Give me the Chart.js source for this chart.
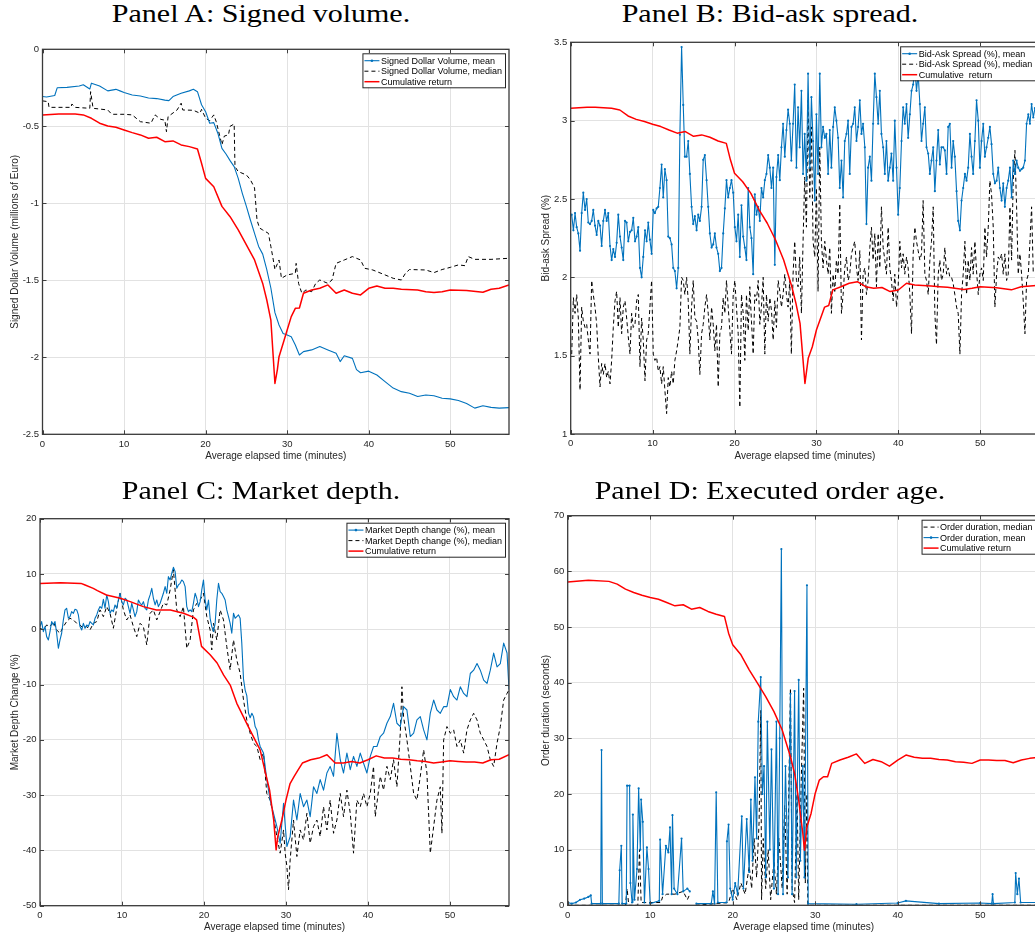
<!DOCTYPE html>
<html>
<head>
<meta charset="utf-8">
<script src="https://cdn.jsdelivr.net/npm/chart.js@4.4.1/dist/chart.umd.min.js"></script>
<style>
html, body { margin: 0; padding: 0; width: 1035px; height: 938px; overflow: hidden; background: #fff; }
canvas { position: absolute; }
.panel-title {
    position: absolute; width: 400px; text-align: center;
    font-family: "Liberation Serif", "Times New Roman", serif;
    font-size: 25px; line-height: 25px; color: #000; white-space: nowrap;
    transform: scaleX(1.2); transform-origin: center;
}
</style>
</head>
<body>
<canvas id="chartA" width="515" height="430" style="left:0px; top:40px;"></canvas>
<canvas id="chartB" width="525" height="440" style="left:520px; top:30px;"></canvas>
<canvas id="chartC" width="515" height="468" style="left:0px; top:470px;"></canvas>
<canvas id="chartD" width="525" height="433" style="left:520px; top:505px;"></canvas>
<div class="panel-title" style="left:61px; top:1px;">Panel A: Signed volume.</div>
<div class="panel-title" style="left:570px; top:1px;">Panel B: Bid-ask spread.</div>
<div class="panel-title" style="left:61px; top:478px;">Panel C: Market depth.</div>
<div class="panel-title" style="left:570px; top:478px;">Panel D: Executed order age.</div>
<script>
// Ejes compartidos
const timeMax = 57.2;
const timeTicks = [0, 10, 20, 30, 40, 50];
const volTicks = [-2.5, -2, -1.5, -1, -0.5, 0];
const spreadTicks = [1, 1.5, 2, 2.5, 3, 3.5];
const depthTicks = [-50, -40, -30, -20, -10, 0, 10, 20];
const ageTicks = [0, 10, 20, 30, 40, 50, 60, 70];

// Panel A: volumen firmado [minutos, millones de euro]
const volMean = [[0,-0.307],[0.5,-0.31],[1.5,-0.30],[1.8,-0.25],[3,-0.247],[4.5,-0.238],[5,-0.23],[5.8,-0.258],[6,-0.22],[7,-0.238],
  [8,-0.27],[9,-0.26],[9.5,-0.27],[10,-0.28],[11,-0.297],[12,-0.303],[13,-0.316],[14,-0.32],[15,-0.33],[15.5,-0.333],
  [16,-0.307],[17,-0.286],[18,-0.27],[18.5,-0.26],[19,-0.275],[19.5,-0.36],[20,-0.405],[20.5,-0.48],[21,-0.476],[21.5,-0.545],
  [22,-0.643],[22.5,-0.68],[23,-0.723],[23.5,-0.762],[24,-0.838],[24.5,-0.935],[25,-1.02],[25.5,-1.11],[26,-1.195],[26.5,-1.28],
  [27,-1.33],[27.5,-1.43],[28,-1.55],[28.5,-1.71],[29,-1.79],[29.5,-1.845],[30,-1.855],[30.5,-1.866],[31,-1.92],[31.5,-1.985],
  [32,-1.963],[33,-1.952],[34,-1.93],[35,-1.952],[36,-1.974],[36.5,-2.028],[37,-1.99],[38,-2.007],[38.5,-2.08],[39,-2.10],
  [40,-2.09],[41,-2.115],[42,-2.158],[43,-2.2],[44,-2.223],[45,-2.234],[46,-2.255],[47,-2.245],[48,-2.25],[49,-2.266],
  [50,-2.27],[51,-2.28],[52,-2.3],[53,-2.33],[54,-2.315],[55,-2.325],[56,-2.33],[57.2,-2.327]];
const volMedian = [[0,-0.335],[0.7,-0.34],[0.8,-0.377],[3.5,-0.377],[3.6,-0.355],[4,-0.377],[5.8,-0.383],[5.9,-0.275],[6.2,-0.383],[8,-0.394],
  [8.5,-0.422],[10,-0.422],[11,-0.426],[12,-0.47],[13.3,-0.48],[13.8,-0.426],[14.5,-0.455],[15,-0.46],[15.2,-0.535],[15.4,-0.437],
  [16.5,-0.394],[17,-0.35],[17.2,-0.394],[18.5,-0.396],[19.3,-0.415],[19.5,-0.39],[20,-0.448],[20.5,-0.463],[21,-0.426],[21.3,-0.47],
  [22,-0.62],[22.3,-0.563],[22.8,-0.556],[23,-0.50],[23.5,-0.485],[23.6,-0.762],[24,-0.794],[25,-0.816],[25.5,-0.848],[26,-0.9],
  [26.3,-1.108],[26.6,-1.16],[27,-1.173],[27.7,-1.195],[28,-1.28],[28.3,-1.368],[28.5,-1.43],[29,-1.368],[29.3,-1.487],[30,-1.465],
  [31,-1.455],[31.1,-1.39],[31.4,-1.52],[31.8,-1.584],[32.3,-1.563],[33,-1.574],[33.5,-1.52],[34,-1.498],[35,-1.52],[35.5,-1.498],
  [36,-1.39],[37,-1.368],[38,-1.346],[39,-1.368],[39.5,-1.422],[40.5,-1.433],[42,-1.465],[43,-1.487],[44,-1.498],[44.5,-1.455],
  [45,-1.43],[47,-1.433],[48,-1.45],[49,-1.43],[50,-1.416],[51,-1.4],[51.8,-1.405],[52.2,-1.346],[53,-1.364],[55,-1.364],[57.2,-1.357]];
const volReturn = [[0,-0.426],[2,-0.42],[4,-0.42],[5,-0.426],[6,-0.448],[7,-0.48],[8,-0.498],[9,-0.506],[10,-0.524],[11,-0.541],
  [12,-0.556],[13,-0.578],[14,-0.571],[15,-0.6],[16,-0.595],[17,-0.621],[18,-0.632],[19,-0.647],[19.5,-0.74],[20,-0.838],
  [21,-0.892],[22,-1.02],[23,-1.087],[24,-1.173],[25,-1.27],[26,-1.368],[27,-1.52],[27.5,-1.628],[28,-1.758],[28.5,-2.17],
  [28.8,-2.08],[29,-1.996],[29.5,-1.91],[30,-1.823],[30.5,-1.736],[31,-1.682],[31.5,-1.68],[32,-1.584],[33,-1.563],[34,-1.552],
  [35,-1.53],[36,-1.584],[37,-1.563],[38,-1.584],[39,-1.595],[40,-1.552],[41,-1.537],[42,-1.552],[43,-1.552],[44,-1.558],
  [46,-1.563],[47,-1.574],[48,-1.58],[49,-1.574],[50,-1.563],[52,-1.566],[54,-1.578],[55,-1.558],[56,-1.552],[57.2,-1.53]];

// Panel B: spread bid-ask (%)
const spreadMean = [[0.12,2.40],[0.33,2.30],[0.53,2.41],[0.73,2.32],[0.93,2.28],[1.14,2.17],[1.34,2.41],[1.54,2.54],[1.75,2.43],[1.95,2.50],
  [2.15,2.35],[2.36,2.34],[2.56,2.36],[2.76,2.43],[2.97,2.33],[3.17,2.27],[3.37,2.36],[3.58,2.33],[3.78,2.20],[3.98,2.36],
  [4.19,2.43],[4.39,2.36],[4.59,2.41],[4.80,2.20],[5.00,2.11],[5.20,2.18],[5.41,2.13],[5.61,2.22],[5.81,2.40],[6.02,2.26],
  [6.22,2.19],[6.42,2.11],[6.63,2.36],[6.83,2.35],[7.03,2.23],[7.24,2.29],[7.44,2.30],[7.64,2.38],[7.85,2.23],[8.05,2.26],
  [8.25,2.32],[8.46,2.06],[8.66,2.00],[8.86,2.13],[9.07,2.30],[9.27,2.23],[9.47,2.35],[9.67,2.24],[9.88,2.15],[10.08,2.43],
  [10.28,2.41],[10.49,2.44],[10.69,2.45],[10.89,2.57],[11.10,2.72],[11.30,2.51],[11.50,2.69],[11.71,2.62],[11.91,2.26],[12.11,2.25],
  [12.32,2.21],[12.52,2.06],[12.72,2.04],[12.93,1.93],[13.13,2.06],[13.33,2.91],[13.54,3.47],[13.74,3.10],[13.94,2.77],[14.15,2.77],
  [14.35,2.87],[14.55,2.66],[14.76,2.45],[14.96,2.34],[15.16,2.39],[15.37,2.30],[15.57,2.40],[15.77,2.36],[15.98,2.45],[16.18,2.75],
  [16.38,2.78],[16.59,2.62],[16.79,2.45],[16.99,2.28],[17.20,2.19],[17.40,2.21],[17.60,2.28],[17.80,2.19],[18.01,2.15],[18.21,2.04],
  [18.41,2.06],[18.62,2.28],[18.82,2.44],[19.02,2.62],[19.23,2.51],[19.43,2.57],[19.63,2.62],[19.84,2.54],[20.04,2.32],[20.24,2.23],
  [20.45,2.40],[20.65,2.13],[20.85,2.46],[21.06,2.26],[21.26,2.19],[21.46,2.11],[21.67,2.57],[21.87,2.32],[22.07,2.25],[22.28,2.02],
  [22.48,2.53],[22.68,2.40],[22.89,2.45],[23.09,2.36],[23.29,2.57],[23.50,2.51],[23.70,2.62],[23.90,2.66],[24.11,2.78],[24.31,2.70],
  [24.51,2.57],[24.72,2.70],[24.92,2.08],[25.12,2.64],[25.33,2.78],[25.53,2.62],[25.73,2.83],[25.93,2.98],[26.14,2.77],[26.34,2.94],
  [26.54,3.07],[26.75,2.98],[26.94,2.745],[27.15,2.98],[27.35,3.23],[27.56,2.70],[27.76,3.085],[27.96,2.83],[28.17,3.19],[28.37,2.66],
  [28.57,2.915],[28.78,2.617],[28.98,3.30],[29.19,2.70],[29.39,3.15],[29.59,2.87],[29.80,2.49],[30.00,3.04],[30.20,2.66],[30.41,3.30],
  [30.61,2.83],[30.81,2.96],[31.02,2.89],[31.22,2.915],[31.43,2.66],[31.63,2.94],[31.83,2.70],[32.04,2.96],[32.24,3.085],[32.44,3.0],
  [32.65,2.89],[32.85,2.57],[33.06,2.745],[33.26,2.51],[33.46,2.87],[33.67,2.915],[33.87,3.0],[34.07,2.66],[34.28,2.96],[34.48,2.98],
  [34.68,3.085],[34.89,2.87],[35.09,2.96],[35.30,3.13],[35.50,2.915],[35.70,2.98],[35.91,2.83],[36.11,2.34],[36.31,2.70],[36.52,2.77],
  [36.72,2.617],[36.92,2.98],[37.13,3.30],[37.33,3.15],[37.54,2.98],[37.74,3.19],[37.94,2.915],[38.15,2.83],[38.35,2.66],[38.55,2.87],
  [38.76,2.617],[38.96,2.70],[39.16,2.79],[39.37,2.617],[39.57,3.0],[39.78,2.70],[39.98,2.40],[40.18,2.57],[40.39,2.87],[40.59,3.085],
  [40.79,2.98],[41.00,3.106],[41.20,2.89],[41.41,3.04],[41.61,3.19],[41.81,3.23],[42.02,3.34],[42.22,3.19],[42.42,3.30],[42.63,3.106],
  [42.83,2.87],[43.03,2.98],[43.24,3.085],[43.44,2.83],[43.65,2.79],[43.85,2.66],[44.05,2.745],[44.26,2.83],[44.46,2.55],[44.66,2.745],
  [44.87,2.94],[45.07,2.72],[45.27,2.83],[45.48,2.83],[45.68,2.81],[45.89,2.66],[46.09,2.96],[46.29,2.98],[46.50,2.70],[46.70,2.87],
  [46.90,2.77],[47.11,2.55],[47.31,2.36],[47.52,2.30],[47.72,2.49],[47.92,2.57],[48.13,2.66],[48.33,2.617],[48.53,2.70],[48.74,2.915],
  [48.94,2.77],[49.14,2.66],[49.35,2.87],[49.55,3.13],[49.76,3.0],[49.96,2.70],[50.16,2.87],[50.37,2.98],[50.57,2.77],[50.77,2.83],
  [50.98,2.89],[51.18,2.96],[51.38,2.85],[51.59,2.66],[51.79,2.60],[52.00,2.617],[52.20,2.70],[52.40,2.57],[52.61,2.49],[52.81,2.60],
  [53.01,2.45],[53.22,2.57],[53.42,2.617],[53.63,2.70],[53.83,2.51],[54.03,2.745],[54.24,2.66],[54.44,2.745],[54.64,2.70],[54.85,2.68],
  [55.05,2.69],[55.25,2.70],[55.46,2.745],[55.66,2.98],[55.87,3.04],[56.07,2.98],[56.27,3.106],[56.48,3.02],[56.68,3.08]];
const spreadMedian = [[0.12,1.51],[0.33,1.87],[0.53,1.77],[0.73,1.89],[0.93,1.74],[1.14,1.28],[1.34,1.81],[1.54,1.72],[1.75,1.68],[1.95,1.70],
  [2.15,1.60],[2.36,1.51],[2.56,1.98],[2.76,1.89],[2.97,1.81],[3.17,1.70],[3.37,1.49],[3.58,1.30],[3.78,1.45],[3.98,1.38],
  [4.19,1.45],[4.39,1.36],[4.59,1.40],[4.80,1.32],[5.00,1.47],[5.20,1.68],[5.41,1.85],[5.61,1.91],[5.81,1.68],[6.02,1.87],
  [6.22,1.64],[6.42,1.81],[6.63,1.85],[6.83,1.74],[7.03,1.62],[7.24,1.51],[7.44,1.77],[7.64,1.68],[7.85,1.70],[8.05,1.85],
  [8.25,1.89],[8.46,1.43],[8.66,1.74],[8.86,1.60],[9.07,1.34],[9.27,1.60],[9.47,1.64],[9.67,1.81],[9.88,1.98],[10.08,1.51],
  [10.28,1.47],[10.49,1.49],[10.69,1.40],[10.89,1.43],[11.10,1.32],[11.30,1.43],[11.50,1.28],[11.71,1.13],[11.91,1.36],[12.11,1.30],
  [12.32,1.40],[12.52,1.32],[12.72,1.47],[12.93,1.53],[13.13,1.60],[13.33,1.68],[13.54,2.0],[13.74,1.98],[13.94,1.89],[14.15,2.0],
  [14.35,1.85],[14.55,1.51],[14.76,1.81],[14.96,1.98],[15.16,1.74],[15.37,1.72],[15.57,1.60],[15.77,1.38],[15.98,1.64],[16.18,1.70],
  [16.38,1.81],[16.59,1.89],[16.79,1.77],[16.99,1.60],[17.20,1.81],[17.40,1.70],[17.60,1.53],[17.80,1.70],[18.01,1.30],[18.21,1.64],
  [18.41,1.68],[18.62,1.87],[18.82,1.77],[19.02,1.98],[19.23,1.81],[19.43,1.66],[19.63,1.51],[19.84,1.89],[20.04,1.98],[20.24,1.81],
  [20.45,1.64],[20.65,1.17],[20.85,1.89],[21.06,1.77],[21.26,1.47],[21.46,1.89],[21.67,1.66],[21.87,1.94],[22.07,1.72],[22.28,1.51],
  [22.48,1.89],[22.68,1.85],[22.89,1.98],[23.09,1.70],[23.29,1.81],[23.50,2.0],[23.70,1.51],[23.90,1.89],[24.11,1.72],[24.31,1.87],
  [24.51,1.79],[24.72,1.60],[24.92,1.85],[25.12,1.68],[25.33,1.98],[25.53,1.91],[25.73,1.81],[25.93,1.89],[26.14,2.02],[26.34,1.89],
  [26.54,1.81],[26.75,1.98],[26.94,1.51],[27.15,2.02],[27.35,2.23],[27.56,1.98],[27.76,1.94],[27.96,2.13],[28.17,1.77],[28.37,2.23],
  [28.57,2.64],[28.78,2.32],[28.98,3.13],[29.19,2.51],[29.39,2.96],[29.59,2.23],[29.80,2.13],[30.00,2.57],[30.20,1.91],[30.41,2.83],
  [30.61,2.23],[30.81,2.06],[31.02,2.23],[31.22,2.11],[31.43,2.02],[31.63,2.19],[31.83,1.77],[32.04,2.02],[32.24,1.91],[32.44,2.11],
  [32.65,2.02],[32.85,2.47],[33.06,1.77],[33.26,1.89],[33.46,2.06],[33.67,2.13],[33.87,1.98],[34.07,2.02],[34.28,2.15],[34.48,2.19],
  [34.68,2.23],[34.89,2.06],[35.09,1.98],[35.30,2.17],[35.50,1.60],[35.70,2.02],[35.91,2.06],[36.11,1.89],[36.31,1.98],[36.52,2.19],
  [36.72,2.32],[36.92,2.11],[37.13,2.28],[37.33,1.94],[37.54,2.28],[37.74,2.06],[37.94,2.45],[38.15,2.19],[38.35,2.11],[38.55,2.02],
  [38.76,2.32],[38.96,2.06],[39.16,1.98],[39.37,1.85],[39.57,2.02],[39.78,1.81],[39.98,1.94],[40.18,2.23],[40.39,2.06],[40.59,2.15],
  [40.79,2.02],[41.00,2.13],[41.20,2.06],[41.41,1.89],[41.61,1.64],[41.81,2.15],[42.02,2.32],[42.22,2.23],[42.42,2.17],[42.63,2.11],
  [42.83,2.15],[43.03,2.49],[43.24,2.02],[43.44,1.98],[43.65,1.89],[43.85,2.11],[44.05,2.23],[44.26,2.45],[44.46,1.77],[44.66,1.57],
  [44.87,2.02],[45.07,2.11],[45.27,1.98],[45.48,2.02],[45.68,2.19],[45.89,2.02],[46.09,2.06],[46.29,2.0],[46.50,2.0],[46.70,1.96],
  [46.90,1.89],[47.11,1.81],[47.31,1.77],[47.52,1.51],[47.72,1.89],[47.92,2.02],[48.13,2.23],[48.33,1.89],[48.53,2.11],[48.74,1.98],
  [48.94,2.19],[49.14,2.02],[49.35,2.23],[49.55,2.04],[49.76,1.89],[49.96,2.02],[50.16,2.06],[50.37,1.98],[50.57,2.32],[50.77,2.13],
  [50.98,2.32],[51.18,2.617],[51.38,2.53],[51.59,2.32],[51.79,1.81],[52.00,2.02],[52.20,2.13],[52.40,2.11],[52.61,2.15],[52.81,2.02],
  [53.01,2.15],[53.22,1.98],[53.42,2.02],[53.63,2.45],[53.83,2.11],[54.03,2.62],[54.24,2.81],[54.44,2.45],[54.64,2.02],[54.85,2.15],
  [55.05,2.02],[55.25,1.85],[55.46,1.64],[55.66,1.98],[55.87,2.02],[56.07,2.23],[56.27,2.45],[56.48,2.02]];
const spreadReturn = [[0,3.079],[2,3.085],[3,3.085],[5,3.079],[6,3.068],[7,3.03],[8,3.008],[9,2.994],[10,2.977],[11,2.962],
  [12,2.94],[13,2.92],[14,2.93],[15,2.90],[16,2.909],[17,2.894],[18,2.87],[19,2.855],[19.5,2.75],[20,2.664],
  [21,2.61],[22,2.536],[23,2.43],[24,2.345],[25,2.24],[26,2.11],[27,1.94],[27.5,1.834],[28,1.706],[28.6,1.323],
  [29,1.483],[29.5,1.557],[30,1.664],[31,1.81],[31.5,1.82],[32,1.92],[33,1.94],[34,1.962],[35,1.972],[36,1.94],
  [37,1.93],[38,1.935],[39,1.909],[40,1.919],[41,1.962],[42,1.951],[44,1.945],[45,1.94],[46,1.936],[48,1.923],
  [49,1.93],[50,1.94],[52,1.934],[53.8,1.92],[55,1.94],[57.2,1.95]];

// Panel C: cambio de profundidad de mercado (%)
const depthMean = [[0,0.48],[0.20,1.39],[0.41,-0.42],[0.61,0.48],[0.81,-1.33],[1.02,-1.93],[1.22,-0.42],[1.42,1.39],[1.63,0.78],[1.83,1.39],
  [2.03,-0.72],[2.24,-3.44],[2.44,-1.93],[2.64,-0.72],[2.85,1.69],[3.05,3.50],[3.25,3.80],[3.46,1.99],[3.66,2.29],[3.86,3.19],
  [4.07,2.89],[4.27,3.62],[4.48,3.50],[4.68,2.59],[4.88,0.48],[5.09,-0.12],[5.29,1.08],[5.49,0.18],[5.70,0.78],[5.90,0.48],
  [6.10,1.39],[6.31,1.08],[6.51,0.78],[6.71,1.99],[6.92,2.59],[7.12,3.50],[7.32,4.10],[7.53,3.80],[7.73,5.42],[7.93,3.80],
  [8.14,6.21],[8.34,5.0],[8.54,2.89],[8.75,3.50],[8.95,3.19],[9.15,4.40],[9.36,3.80],[9.56,5.30],[9.76,6.51],[9.97,5.0],
  [10.17,4.40],[10.37,5.61],[10.58,5.30],[10.78,4.10],[10.98,2.89],[11.19,4.70],[11.39,3.50],[11.59,2.29],[11.80,3.19],[12.00,5.30],
  [12.21,4.70],[12.41,4.40],[12.61,5.0],[12.82,3.80],[13.02,3.50],[13.22,5.30],[13.43,6.21],[13.63,7.41],[13.83,5.61],[14.04,4.40],
  [14.24,5.30],[14.44,4.10],[14.65,4.70],[14.85,5.61],[15.05,6.51],[15.26,7.72],[15.46,6.51],[15.66,9.52],[15.87,8.92],[16.07,10.13],
  [16.27,11.21],[16.48,10.43],[16.68,7.41],[16.88,8.02],[17.09,8.32],[17.29,8.92],[17.49,8.62],[17.70,7.72],[17.90,4.10],[18.10,3.19],
  [18.31,3.50],[18.51,3.19],[18.71,4.70],[18.92,6.51],[19.12,5.61],[19.33,4.10],[19.53,5.0],[19.73,7.11],[19.94,8.92],[20.14,5.30],
  [20.34,3.50],[20.55,5.30],[20.75,1.99],[20.95,0.48],[21.16,-0.42],[21.36,1.08],[21.56,5.30],[21.77,8.32],[21.97,6.81],[22.17,6.51],
  [22.38,5.91],[22.58,5.30],[22.78,3.50],[22.99,2.29],[23.19,1.08],[23.39,-0.72],[23.60,2.89],[23.80,1.99],[24.00,2.29],[24.21,2.59],
  [24.41,2.0],[24.61,-2.5],[24.82,-9.0],[25.02,-11.0],[25.22,-12.0],[25.43,-15.2],[25.63,-16.0],[25.84,-15.2],[26.04,-15.8],[26.24,-17.6],
  [26.45,-18.2],[26.65,-20.0],[26.85,-21.2],[27.26,-22.4],[27.66,-27.2],[28.07,-30.9],[28.48,-33.3],[28.89,-35.7],[29.29,-38.7],[29.70,-31.5],
  [30.11,-39.3],[30.51,-37.5],[30.92,-30.9],[31.33,-34.5],[31.73,-29.7],[32.14,-32.1],[32.55,-30.9],[32.95,-33.9],[33.36,-28.5],[33.77,-29.7],
  [34.17,-27.2],[34.58,-29.1],[34.99,-26.0],[35.39,-24.8],[35.80,-26.6],[36.21,-18.8],[36.62,-23.6],[37.02,-26.0],[37.43,-22.4],[37.84,-25.4],
  [38.24,-23.0],[38.65,-24.8],[39.06,-22.4],[39.46,-24.2],[39.87,-26.0],[40.28,-23.0],[40.68,-21.2],[41.09,-21.2],[41.50,-19.4],[41.90,-18.8],
  [42.31,-17.0],[42.72,-15.8],[43.12,-13.4],[43.53,-17.0],[43.94,-17.6],[44.34,-14.0],[44.75,-14.6],[45.16,-19.4],[45.57,-18.8],[45.97,-16.4],
  [46.38,-15.8],[46.79,-18.2],[47.19,-20.0],[47.60,-15.2],[48.01,-12.8],[48.41,-14.6],[48.82,-15.2],[49.23,-14.0],[49.63,-14.0],[50.04,-10.9],
  [50.45,-12.2],[50.85,-12.8],[51.26,-10.4],[51.67,-11.6],[52.07,-12.2],[52.48,-8.0],[52.89,-7.4],[53.30,-6.2],[53.70,-7.4],[54.11,-9.2],
  [54.52,-9.8],[54.92,-7.4],[55.33,-4.3],[55.74,-6.8],[56.14,-6.2],[56.55,-2.5],[56.96,-4.3],[57.2,-10.9]];
const depthMedian = [[0,0.18],[0.41,-0.12],[0.81,0.78],[1.22,0.48],[1.63,1.39],[2.03,-0.12],[2.44,-0.72],[2.85,0.48],[3.25,1.39],[3.66,1.99],
  [4.07,1.69],[4.48,1.08],[4.88,0.78],[5.29,0.18],[5.70,0.48],[6.10,-0.12],[6.51,1.08],[6.92,1.39],[7.32,3.50],[7.73,2.29],
  [8.14,4.10],[8.54,2.89],[8.95,0.18],[9.36,3.80],[9.76,6.51],[10.17,3.50],[10.58,1.69],[10.98,2.59],[11.39,0.48],[11.80,-1.33],
  [12.21,1.08],[12.61,0.48],[13.02,-2.83],[13.43,2.89],[13.83,3.50],[14.24,1.69],[14.65,3.19],[15.05,4.70],[15.46,4.40],[15.87,7.11],
  [16.27,10.73],[16.68,3.50],[17.09,2.29],[17.49,4.10],[17.90,-3.44],[18.31,-1.93],[18.71,3.50],[19.12,4.70],[19.53,5.30],[19.94,6.51],
  [20.34,2.29],[20.75,-0.12],[20.95,-3.74],[21.16,1.08],[21.56,-1.93],[21.97,3.50],[22.38,1.69],[22.78,-3.13],[23.19,-7.35],[23.60,-1.93],
  [24.00,-5.55],[24.41,-7.96],[24.82,-12.78],[25.22,-16.4],[25.63,-18.8],[26.04,-20.6],[26.45,-21.2],[26.85,-23.6],[27.26,-22.4],[27.66,-29.7],
  [28.07,-30.9],[28.48,-33.9],[28.89,-37.5],[29.29,-40.5],[29.70,-36.3],[29.90,-40.5],[30.11,-42.9],[30.31,-47.1],[30.51,-41.7],[30.92,-34.5],
  [31.33,-41.1],[31.73,-36.3],[32.14,-38.1],[32.55,-33.3],[32.95,-38.7],[33.36,-35.7],[33.77,-34.5],[34.17,-37.5],[34.58,-32.1],[34.99,-36.3],
  [35.39,-30.9],[35.80,-36.9],[36.21,-34.5],[36.62,-29.7],[37.02,-33.9],[37.43,-29.1],[37.84,-33.3],[38.24,-40.5],[38.65,-30.9],[39.06,-32.1],
  [39.46,-29.7],[39.87,-32.1],[40.28,-29.7],[40.68,-24.8],[40.89,-33.9],[41.50,-26.6],[41.90,-29.1],[42.31,-24.8],[42.72,-27.2],[43.12,-23.6],
  [43.53,-28.5],[43.94,-18.8],[44.14,-10.4],[44.34,-15.8],[44.75,-20.0],[45.16,-24.8],[45.57,-29.7],[45.97,-30.9],[46.38,-26.6],[46.79,-21.8],
  [47.19,-26.0],[47.60,-40.5],[48.01,-35.7],[48.41,-30.9],[48.82,-28.5],[49.02,-36.9],[49.23,-20.0],[49.63,-17.6],[50.04,-18.8],[50.45,-18.2],
  [50.85,-21.2],[51.26,-20.0],[51.67,-22.4],[52.07,-18.2],[52.48,-16.4],[52.89,-15.2],[53.30,-16.4],[53.70,-18.8],[54.11,-20.0],[54.52,-21.2],
  [54.92,-23.6],[55.33,-24.8],[55.74,-20.6],[56.14,-17.6],[56.55,-12.8],[56.96,-11.6],[57.2,-11.0]];
const depthReturn = [[0,8.3],[2.5,8.4],[5,8.3],[5.5,8.0],[6.5,7.4],[7,7.0],[8.1,6.2],[9.8,5.6],[11,5.0],[12.6,4.1],
  [14.2,3.5],[15.9,3.5],[17.5,2.9],[18.7,2.2],[19.1,1.7],[19.7,-3.1],[20.75,-4.6],[21.6,-6.1],[22.4,-8.3],[23.2,-10.1],
  [24,-13.4],[24.8,-15.8],[25.6,-18.2],[26.85,-21.8],[27.5,-26],[28,-29.1],[28.5,-34.5],[28.8,-39.9],[29,-37.5],[29.5,-34.5],
  [30,-30.9],[30.5,-27.9],[31,-26.6],[31.5,-25.4],[32,-24.2],[33,-23.6],[34,-23.3],[35,-22.7],[36,-24.2],[37,-24.2],
  [38,-23.9],[39,-24.2],[40,-23.6],[41,-22.9],[42,-23.3],[43,-23.3],[44,-23.5],[45,-23.6],[46,-23.8],[47,-23.9],
  [48,-24.2],[49,-24.0],[50,-23.8],[51,-23.9],[52,-24.0],[53,-24.0],[54,-24.2],[55,-23.6],[56,-23.5],[57.2,-22.7]];

// Panel D: antigüedad de la orden ejecutada (segundos)
const ageMedian = [[0,0],[7.0,0],[7.2,3],[7.4,0],[8.5,0],[8.7,10],[8.9,0.5],[11.3,0.5],[11.5,1.5],[12,2],
  [13,2],[14,2.5],[14.5,1],[14.8,2],[14.9,null],[15.5,0],[19.5,0.5],[20,3],[20.5,1],[21,4],
  [21.5,2],[22,7],[22.3,3],[22.6,12],[22.9,5],[23.2,15],[23.4,35],[23.5,1],[23.7,12],[24,3],
  [24.3,10],[24.6,1],[25,8],[25.3,2],[25.6,12],[26,3],[26.3,18],[26.6,2],[27,39],[27.2,3],
  [27.5,0.5],[27.8,20],[28,1],[28.3,22],[28.6,39],[28.8,4],[29,20],[29.1,0],[57.2,0]];
const ageMean = [[0,0.5],[0.5,0.3],[1,0.5],[1.5,1.0],[2,1.2],[2.5,1.5],[2.8,1.8],[2.9,0.3],[4.0,0.3],[4.1,27.9],
  [4.2,0.3],[6.2,0.3],[6.3,6.3],[6.5,10.7],[6.6,0.3],[7.1,0.3],[7.2,21.5],[7.5,21.5],[7.6,4],[7.8,0.5],
  [7.9,16.3],[8.1,1],[8.4,6.5],[8.6,21],[8.8,10],[8.9,19],[9.1,15],[9.3,0.5],[9.6,10.4],[9.8,6.5],
  [10,0.3],[11.1,0.8],[11.2,11.8],[11.5,2],[11.9,10.7],[12.2,9.5],[12.4,14],[12.6,2],[12.7,16.2],[12.9,3],
  [13.3,2],[13.8,12],[14,2.5],[14.5,3],[14.8,2.5],[14.9,null],[15.6,0.3],[17.4,0.3],[17.6,2.5],[17.8,0.3],
  [18,20.3],[18.2,0.5],[19.2,0.5],[19.3,11.5],[19.5,14.5],[19.7,3],[20,1],[20.3,4],[20.6,2],[21.1,16],
  [21.3,3],[21.7,15.5],[22,6],[22.2,19],[22.4,8],[22.7,23],[22.9,12],[23.1,33],[23.4,41],[23.6,20],
  [23.8,25],[24.0,5],[24.2,33],[24.5,10],[24.7,28],[25.0,3],[25.3,33],[25.5,2],[25.7,30],[25.9,64],
  [26.1,2],[26.4,25],[26.7,5],[27.0,38],[27.2,2],[27.5,38.5],[27.7,5],[28.0,40.5],[28.2,8],[28.5,25],
  [28.7,5],[29.0,57.5],[29.15,0.3],[35,0.2],[40,0.4],[41,0.8],[45,0.3],[50,0.4],[51.4,0.3],[51.5,2],
  [51.6,0.3],[54.2,0.5],[54.3,5.8],[54.5,2],[54.7,4.8],[54.9,0.5],[57.2,0.5]];
const ageReturn = [[0,58.1],[2.5,58.4],[5,58.2],[6,57.7],[7,56.8],[8,56.2],[9,55.7],[10,55.3],[11,55.0],[12,54.4],
  [13,53.8],[14,54.0],[15,53.2],[16,53.5],[17,52.8],[18,52.3],[19,51.9],[19.5,48.9],[20,46.8],[21,45.0],
  [22,42.3],[23,39.9],[24,37.5],[25,34.8],[26,31.5],[27,26.7],[27.5,23.7],[28,18.9],[28.5,12.9],[28.7,9.9],
  [29,14.1],[29.5,16.5],[30,20.1],[30.5,22.5],[31,23.1],[31.5,23.1],[32,25.5],[33,26.1],[34,26.6],[35,27.2],
  [36,25.5],[37,26.2],[38,25.8],[39,25.0],[40,26.1],[41,27.0],[42,26.6],[43,26.4],[44,26.4],[45,26.2],
  [46,26.1],[47,25.8],[48,25.7],[49,25.5],[50,26.1],[51,26.1],[52,26.0],[53,26.0],[54,25.6],[55,26.1],
  [56,26.4],[57.2,26.6]];

const BLUE = '#0072BD';
const RED = '#FF0000';
const FONT = '"Liberation Sans", Arial, sans-serif';

function toPoints(pairs) {
    return pairs.map(([x, y]) => ({ x, y }));
}

function meanSet(pairs, dots) {
    return { data: toPoints(pairs), borderColor: BLUE, backgroundColor: BLUE, borderWidth: 1.1,
        pointRadius: dots, pointBorderWidth: 0, borderJoinStyle: 'round', spanGaps: false };
}
function medianSet(pairs) {
    return { data: toPoints(pairs), borderColor: '#000', borderWidth: 1, borderDash: [4, 3],
        pointRadius: 0, borderJoinStyle: 'round', spanGaps: false };
}
function returnSet(pairs) {
    return { data: toPoints(pairs), borderColor: RED, borderWidth: 1.5, pointRadius: 0, borderJoinStyle: 'round' };
}

// Caja de ejes, marcas interiores y leyenda estilo MATLAB
const axesFrame = {
    id: 'axesFrame',
    afterDraw(chart, args, opts) {
        const { ctx, chartArea: a, scales: { x, y } } = chart;
        ctx.save();
        ctx.strokeStyle = '#404040';
        ctx.lineWidth = 1;
        ctx.beginPath();
        x.ticks.forEach(t => {
            const px = Math.round(x.getPixelForValue(t.value)) + 0.5;
            ctx.moveTo(px, a.bottom); ctx.lineTo(px, a.bottom - 4);
            ctx.moveTo(px, a.top); ctx.lineTo(px, a.top + 4);
        });
        y.ticks.forEach(t => {
            const py = Math.round(y.getPixelForValue(t.value)) + 0.5;
            ctx.moveTo(a.left, py); ctx.lineTo(a.left + 4, py);
            ctx.moveTo(a.right, py); ctx.lineTo(a.right - 4, py);
        });
        ctx.stroke();
        ctx.lineWidth = 1.3;
        ctx.strokeStyle = '#3a3a3a';
        ctx.strokeRect(a.left, a.top, a.right - a.left, a.bottom - a.top);

        // Leyenda
        const items = opts.items || [];
        ctx.font = '9px ' + FONT;
        const textW = Math.max(...items.map(it => ctx.measureText(it.label).width));
        const w = 21.5 + textW;
        const h = 34;
        const bx = a.right - 4 - w;
        const by = a.top + 4;
        ctx.fillStyle = '#fff';
        ctx.fillRect(bx, by, w, h);
        ctx.lineWidth = 1;
        ctx.strokeStyle = '#262626';
        ctx.strokeRect(bx + 0.5, by + 0.5, w, h);
        items.forEach((it, i) => {
            const ry = by + 7.4 + i * 10.5;
            ctx.beginPath();
            ctx.setLineDash(it.dash || []);
            ctx.strokeStyle = it.color;
            ctx.lineWidth = it.width;
            ctx.moveTo(bx + 2, ry);
            ctx.lineTo(bx + 17, ry);
            ctx.stroke();
            ctx.setLineDash([]);
            if (it.marker) {
                ctx.fillStyle = it.color;
                ctx.beginPath();
                ctx.arc(bx + 9.5, ry, 1.3, 0, Math.PI * 2);
                ctx.fill();
            }
            ctx.fillStyle = '#000';
            ctx.textBaseline = 'middle';
            ctx.textAlign = 'left';
            ctx.fillText(it.label, bx + 18.5, ry + 0.5);
        });
        ctx.restore();
    }
};

function makePanel(id, cfg) {
    const tickFont = { family: FONT, size: 9.5 };
    const titleFont = { family: FONT, size: 10 };
    return new Chart(document.getElementById(id), {
        type: 'line',
        data: { datasets: cfg.datasets },
        options: {
            responsive: false,
            animation: false,
            events: [],
            layout: { autoPadding: false, padding: { top: cfg.padTop, right: cfg.padRight, bottom: 0, left: 0 } },
            plugins: {
                legend: { display: false },
                tooltip: { enabled: false },
                axesFrame: { items: cfg.legend }
            },
            scales: {
                x: {
                    type: 'linear', min: 0, max: timeMax,
                    afterBuildTicks: s => { s.ticks = timeTicks.map(v => ({ value: v })); },
                    afterFit: s => { s.height = cfg.xAxisH; },
                    ticks: { padding: 4, color: '#262626', font: tickFont, maxRotation: 0, autoSkip: false, callback: v => String(v) },
                    grid: { color: '#e2e2e2', drawTicks: false },
                    border: { display: false },
                    title: { display: true, text: 'Average elapsed time (minutes)', color: '#262626', font: titleFont,
                        padding: { top: 0, bottom: cfg.xTitlePad } }
                },
                y: {
                    type: 'linear', min: cfg.yTicks[0], max: cfg.yTicks[cfg.yTicks.length - 1],
                    afterBuildTicks: s => { s.ticks = cfg.yTicks.map(v => ({ value: v })); },
                    afterFit: s => { s.width = cfg.yAxisW; },
                    ticks: { padding: 3.5, color: '#262626', font: tickFont, autoSkip: false, callback: v => String(v) },
                    grid: { color: '#e2e2e2', drawTicks: false },
                    border: { display: false },
                    title: { display: true, text: cfg.yTitle, color: '#262626', font: titleFont,
                        padding: { top: cfg.yTitlePad, bottom: 0 } }
                }
            }
        },
        plugins: [axesFrame]
    });
}

makePanel('chartA', {
    padTop: 9.3, padRight: 6, yAxisW: 42.5, xAxisH: 35.7, xTitlePad: 8, yTitlePad: 9.5,
    yTicks: volTicks, yTitle: 'Signed Dollar Volume (millions of Euro)',
    datasets: [returnSet(volReturn), meanSet(volMean, 0), medianSet(volMedian)],
    legend: [
        { label: 'Signed Dollar Volume, mean', color: BLUE, width: 1.1, marker: true },
        { label: 'Signed Dollar Volume, median', color: '#000', width: 1, dash: [4, 3] },
        { label: 'Cumulative return', color: RED, width: 1.5 }
    ]
});

makePanel('chartB', {
    padTop: 12.3, padRight: 5.8, yAxisW: 50.7, xAxisH: 36, xTitlePad: 8, yTitlePad: 20.7,
    yTicks: spreadTicks, yTitle: 'Bid-ask Spread (%)',
    datasets: [returnSet(spreadReturn), meanSet(spreadMean, 1.1), medianSet(spreadMedian)],
    legend: [
        { label: 'Bid-Ask Spread (%), mean', color: BLUE, width: 1.1, marker: true },
        { label: 'Bid-Ask Spread (%), median', color: '#000', width: 1, dash: [4, 3] },
        { label: 'Cumulative  return', color: RED, width: 1.5 }
    ]
});

makePanel('chartC', {
    padTop: 48.7, padRight: 6, yAxisW: 40, xAxisH: 32.3, xTitlePad: 4.7, yTitlePad: 9,
    yTicks: depthTicks, yTitle: 'Market Depth Change (%)',
    datasets: [returnSet(depthReturn), meanSet(depthMean, 0), medianSet(depthMedian)],
    legend: [
        { label: 'Market Depth change (%), mean', color: BLUE, width: 1.1, marker: true },
        { label: 'Market Depth change (%), median', color: '#000', width: 1, dash: [4, 3] },
        { label: 'Cumulative return', color: RED, width: 1.5 }
    ]
});

makePanel('chartD', {
    padTop: 10.7, padRight: 5.4, yAxisW: 47.7, xAxisH: 32.7, xTitlePad: 4.7, yTitlePad: 20.7,
    yTicks: ageTicks, yTitle: 'Order duration (seconds)',
    datasets: [returnSet(ageReturn), meanSet(ageMean, 1.1), medianSet(ageMedian)],
    legend: [
        { label: 'Order duration, median', color: '#000', width: 1, dash: [4, 3] },
        { label: 'Order duration, mean', color: BLUE, width: 1.1, marker: true },
        { label: 'Cumulative return', color: RED, width: 1.5 }
    ]
});
</script>
</body>
</html>
